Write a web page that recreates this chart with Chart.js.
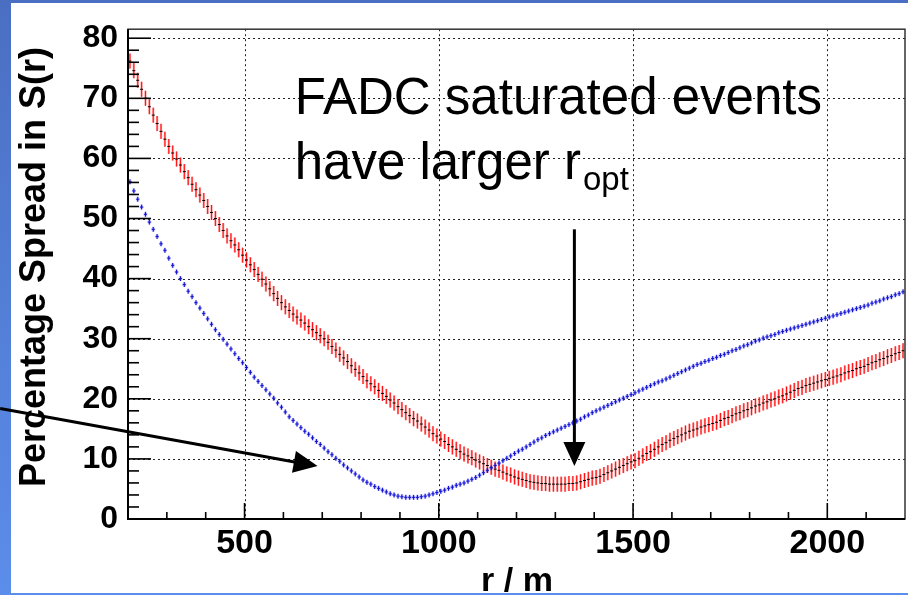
<!DOCTYPE html>
<html>
<head>
<meta charset="utf-8">
<title>Percentage Spread in S(r)</title>
<script src="https://cdn.jsdelivr.net/npm/chart.js@4.4.1/dist/chart.umd.min.js"></script>
<style>
  html, body { margin: 0; padding: 0; background: #fff; }
  canvas { display: block; }
</style>
</head>
<body>
<canvas id="spreadChart" width="908" height="595"></canvas>
<script>
// histogram binning in r (m)
const binStart = 200;
const binWidth = 10;

// spread of S(r) in %, FADC saturated events (red)
const saturatedSpread = [
  76.2, 74.6, 73.0, 71.5, 70.0, 68.6, 67.2, 65.8, 64.5, 63.2,
  62.0, 60.9, 59.9, 58.9, 57.8, 56.8, 55.7, 54.8, 53.9, 53.0,
  52.0, 51.0, 50.0, 49.0, 48.0, 47.1, 46.3, 45.6, 44.8, 43.9,
  43.1, 42.3, 41.5, 40.7, 39.9, 39.1, 38.3, 37.5, 36.7, 36.0,
  35.3, 34.7, 34.1, 33.6, 33.1, 32.6, 32.0, 31.5, 31.0, 30.5,
  30.0, 29.4, 28.7, 28.1, 27.4, 26.8, 26.2, 25.5, 24.9, 24.3,
  23.7, 23.0, 22.5, 22.0, 21.4, 20.9, 20.4, 19.8, 19.3, 18.7,
  18.2, 17.7, 17.2, 16.7, 16.3, 15.8, 15.3, 14.8, 14.2, 13.8,
  13.3, 12.9, 12.4, 12.0, 11.6, 11.2, 10.8, 10.5, 10.2, 9.8,
  9.5, 9.2, 8.9, 8.6, 8.3, 8.1, 7.8, 7.5, 7.3, 7.0,
  6.8, 6.6, 6.4, 6.2, 6.1, 6.0, 5.9, 5.9, 5.8, 5.8,
  5.8, 5.8, 5.8, 5.9, 5.9, 6.0, 6.2, 6.4, 6.6, 6.8,
  6.9, 7.1, 7.4, 7.7, 8.0, 8.3, 8.6, 8.9, 9.2, 9.5,
  9.7, 10.1, 10.5, 10.9, 11.2, 11.6, 12.0, 12.4, 12.7, 13.1,
  13.4, 13.7, 14.0, 14.3, 14.6, 14.8, 15.0, 15.3, 15.5, 15.7,
  15.9, 16.1, 16.4, 16.7, 16.9, 17.2, 17.5, 17.7, 18.0, 18.2,
  18.5, 18.8, 19.0, 19.3, 19.5, 19.8, 20.0, 20.3, 20.5, 20.8,
  21.1, 21.4, 21.7, 21.9, 22.2, 22.4, 22.6, 22.8, 23.0, 23.2,
  23.4, 23.6, 23.8, 24.0, 24.3, 24.5, 24.7, 25.0, 25.2, 25.4,
  25.7, 26.0, 26.2, 26.5, 26.7, 27.0, 27.2, 27.5, 27.7, 28.0
];

// spread of S(r) in %, all other events (blue)
const normalSpread = [
  56.1, 54.6, 53.2, 51.9, 50.7, 49.4, 48.2, 47.0, 45.8, 44.7,
  43.4, 42.2, 41.1, 40.0, 39.0, 37.9, 37.0, 36.0, 35.1, 34.2,
  33.3, 32.4, 31.5, 30.7, 29.9, 29.1, 28.3, 27.5, 26.7, 26.0,
  25.2, 24.4, 23.6, 22.9, 22.2, 21.5, 20.8, 20.1, 19.3, 18.6,
  17.8, 17.0, 16.4, 15.8, 15.2, 14.6, 14.1, 13.5, 12.9, 12.4,
  11.8, 11.2, 10.7, 10.1, 9.6, 9.0, 8.5, 8.0, 7.5, 7.0,
  6.5, 6.1, 5.8, 5.4, 5.1, 4.8, 4.5, 4.2, 4.0, 3.8,
  3.7, 3.6, 3.6, 3.6, 3.6, 3.7, 3.8, 4.0, 4.2, 4.4,
  4.6, 4.8, 5.1, 5.3, 5.6, 5.8, 6.0, 6.3, 6.6, 6.9,
  7.3, 7.7, 8.1, 8.5, 8.9, 9.3, 9.7, 10.1, 10.5, 10.9,
  11.3, 11.6, 12.0, 12.4, 12.8, 13.2, 13.5, 13.9, 14.2, 14.5,
  14.8, 15.1, 15.4, 15.7, 16.0, 16.3, 16.6, 17.0, 17.3, 17.7,
  18.0, 18.3, 18.6, 18.9, 19.2, 19.5, 19.8, 20.1, 20.4, 20.7,
  21.0, 21.3, 21.6, 21.9, 22.2, 22.5, 22.8, 23.0, 23.3, 23.6,
  23.9, 24.2, 24.5, 24.8, 25.1, 25.4, 25.7, 25.9, 26.2, 26.4,
  26.7, 26.9, 27.2, 27.4, 27.7, 28.0, 28.2, 28.5, 28.8, 29.0,
  29.3, 29.6, 29.8, 30.1, 30.3, 30.5, 30.7, 31.0, 31.2, 31.4,
  31.6, 31.8, 32.0, 32.2, 32.4, 32.6, 32.8, 33.0, 33.2, 33.4,
  33.6, 33.8, 34.0, 34.2, 34.4, 34.6, 34.8, 35.0, 35.2, 35.4,
  35.6, 35.9, 36.1, 36.3, 36.6, 36.8, 37.0, 37.3, 37.5, 37.8
];

const saturatedErr = 1.25;
const normalErr = 0.4;

// axis ticks
const xMajor = [500, 1000, 1500, 2000];
const xMinor = [300, 400, 600, 700, 800, 900, 1100, 1200, 1300, 1400, 1600, 1700, 1800, 1900, 2100];
const yMajor = [0, 10, 20, 30, 40, 50, 60, 70, 80];
const yMinor = [2, 4, 6, 8, 12, 14, 16, 18, 22, 24, 26, 28, 32, 34, 36, 38,
  42, 44, 46, 48, 52, 54, 56, 58, 62, 64, 66, 68, 72, 74, 76, 78];

// annotation text and arrows, in data coordinates
const noteLines = ["FADC saturated events", "have larger r"];
const noteSub = "opt";
const arrows = [
  { from: [-129, 18.4], to: [688, 8.8] },
  { from: [1349, 48.2], to: [1349, 8.8] }
];

const FONT = "'Liberation Sans', Arial, Helvetica, sans-serif";

function toPoints(values) {
  return values.map((v, i) => ({ x: binStart + binWidth * (i + 0.5), y: v }));
}

function drawArrow(ctx, x1, y1, x2, y2) {
  const ang = Math.atan2(y2 - y1, x2 - x1);
  const head = 24, wing = 11;
  const bx = x2 - head * Math.cos(ang), by = y2 - head * Math.sin(ang);
  ctx.strokeStyle = "#000";
  ctx.lineWidth = 3;
  ctx.beginPath();
  ctx.moveTo(x1, y1);
  ctx.lineTo(bx + 2 * Math.cos(ang), by + 2 * Math.sin(ang));
  ctx.stroke();
  ctx.fillStyle = "#000";
  ctx.beginPath();
  ctx.moveTo(x2, y2);
  ctx.lineTo(bx - wing * Math.sin(ang), by + wing * Math.cos(ang));
  ctx.lineTo(bx + wing * Math.sin(ang), by - wing * Math.cos(ang));
  ctx.closePath();
  ctx.fill();
}

const rootFrame = {
  id: "rootFrame",
  beforeDraw(chart) {
    const { ctx, width, height } = chart;
    ctx.save();
    ctx.fillStyle = "#fff";
    ctx.fillRect(0, 0, width, height);
    // slide border
    const g = ctx.createLinearGradient(0, 0, 0, height);
    g.addColorStop(0, "#4a6fc2");
    g.addColorStop(1, "#5b8dea");
    ctx.fillStyle = g;
    ctx.fillRect(0, 0, 11, height);
    ctx.fillStyle = "#4a6fc2";
    ctx.fillRect(0, 0, width, 3);
    ctx.fillStyle = "#5b8dea";
    ctx.fillRect(0, 593, width, 2);
    ctx.restore();
  },
  beforeDatasetsDraw(chart) {
    const { ctx, chartArea: a, scales: { x, y } } = chart;
    ctx.save();
    ctx.strokeStyle = "#222";
    ctx.lineWidth = 1;
    ctx.setLineDash([2, 3]);
    yMajor.slice(1).forEach(v => {
      const py = Math.round(y.getPixelForValue(v)) + 0.5;
      ctx.beginPath(); ctx.moveTo(a.left, py); ctx.lineTo(a.right, py); ctx.stroke();
    });
    xMajor.forEach(v => {
      const px = Math.round(x.getPixelForValue(v)) + 0.5;
      ctx.beginPath(); ctx.moveTo(px, a.top); ctx.lineTo(px, a.bottom); ctx.stroke();
    });
    ctx.restore();
  },
  afterDatasetDraw(chart, args) {
    const { ctx, chartArea: a, scales: { x, y } } = chart;
    const ds = chart.data.datasets[args.index];
    const halfBin = (x.getPixelForValue(binWidth) - x.getPixelForValue(0)) / 2;
    ctx.save();
    ctx.beginPath();
    ctx.rect(a.left, a.top, a.right - a.left, a.bottom - a.top);
    ctx.clip();
    args.meta.data.forEach((pt, i) => {
      const v = ds.data[i].y;
      const px = pt.x, py = pt.y;
      const top = y.getPixelForValue(v + ds.errorBar);
      const bot = y.getPixelForValue(v - ds.errorBar);
      if (ds.barStyle === "red") {
        ctx.strokeStyle = "rgba(255,90,90,0.6)";
        ctx.lineWidth = 2.2;
        ctx.beginPath(); ctx.moveTo(px, top); ctx.lineTo(px, bot); ctx.stroke();
        ctx.strokeStyle = "#ff1010";
        ctx.lineWidth = 1;
        ctx.beginPath(); ctx.moveTo(px, top); ctx.lineTo(px, bot); ctx.stroke();
        ctx.strokeStyle = "#000";
        ctx.beginPath(); ctx.moveTo(px - 1.5, py); ctx.lineTo(px + 1.5, py); ctx.stroke();
      } else {
        ctx.strokeStyle = "rgba(70,70,255,0.4)";
        ctx.lineWidth = 2.2;
        ctx.beginPath();
        ctx.moveTo(px - halfBin, py); ctx.lineTo(px + halfBin, py);
        ctx.moveTo(px, Math.min(top, py - 2.5)); ctx.lineTo(px, Math.max(bot, py + 2.5));
        ctx.stroke();
        ctx.strokeStyle = "#1010d0";
        ctx.lineWidth = 1;
        ctx.beginPath();
        ctx.moveTo(px - 1.5, py); ctx.lineTo(px + 1.5, py);
        ctx.moveTo(px, Math.min(top, py - 2)); ctx.lineTo(px, Math.max(bot, py + 2));
        ctx.stroke();
      }
    });
    ctx.restore();
  },
  afterDatasetsDraw(chart) {
    const { ctx, chartArea: a, scales: { x, y } } = chart;
    ctx.save();
    // frame
    ctx.strokeStyle = "#333";
    ctx.lineWidth = 1.5;
    ctx.strokeRect(a.left, a.top, a.right - a.left, a.bottom - a.top);
    ctx.strokeStyle = "#000";
    ctx.lineWidth = 2;
    ctx.beginPath();
    ctx.moveTo(a.left, a.top); ctx.lineTo(a.left, a.bottom); ctx.lineTo(a.right, a.bottom);
    ctx.stroke();
    // tick marks, drawn inside the frame
    ctx.lineWidth = 1.6;
    yMajor.forEach(v => {
      const py = y.getPixelForValue(v);
      ctx.beginPath(); ctx.moveTo(a.left, py); ctx.lineTo(a.left + 23, py); ctx.stroke();
    });
    yMinor.forEach(v => {
      const py = y.getPixelForValue(v);
      ctx.beginPath(); ctx.moveTo(a.left, py); ctx.lineTo(a.left + 11, py); ctx.stroke();
    });
    xMajor.forEach(v => {
      const px = x.getPixelForValue(v);
      ctx.beginPath(); ctx.moveTo(px, a.bottom); ctx.lineTo(px, a.bottom - 16); ctx.stroke();
    });
    xMinor.forEach(v => {
      const px = x.getPixelForValue(v);
      ctx.beginPath(); ctx.moveTo(px, a.bottom); ctx.lineTo(px, a.bottom - 7); ctx.stroke();
    });

    // axis titles
    ctx.fillStyle = "#000";
    ctx.font = "bold 36px " + FONT;
    ctx.textAlign = "center";
    ctx.textBaseline = "alphabetic";
    ctx.save();
    ctx.translate(45, 267);
    ctx.rotate(-Math.PI / 2);
    ctx.fillText("Percentage Spread in S(r)", 0, 0);
    ctx.restore();
    ctx.font = "bold 34px " + FONT;
    ctx.fillText("r / m", 517, 591);

    // note
    ctx.textAlign = "left";
    ctx.font = "51px " + FONT;
    const tx = x.getPixelForValue(629);
    ctx.fillText(noteLines[0], tx, y.getPixelForValue(67.4));
    const l2y = y.getPixelForValue(56.6);
    ctx.fillText(noteLines[1], tx, l2y);
    const w2 = ctx.measureText(noteLines[1]).width;
    ctx.font = "33px " + FONT;
    ctx.fillText(noteSub, tx + w2 + 2, l2y + 11);

    // arrows
    arrows.forEach(ar => {
      drawArrow(ctx,
        x.getPixelForValue(ar.from[0]), y.getPixelForValue(ar.from[1]),
        x.getPixelForValue(ar.to[0]), y.getPixelForValue(ar.to[1]));
    });
    ctx.restore();
  }
};

const ctx = document.getElementById("spreadChart").getContext("2d");
new Chart(ctx, {
  type: "scatter",
  data: {
    datasets: [
      {
        label: "all events",
        data: toPoints(normalSpread),
        errorBar: normalErr,
        barStyle: "blue",
        pointRadius: 0,
        pointHoverRadius: 0
      },
      {
        label: "FADC saturated",
        data: toPoints(saturatedSpread),
        errorBar: saturatedErr,
        barStyle: "red",
        pointRadius: 0,
        pointHoverRadius: 0
      }
    ]
  },
  options: {
    responsive: false,
    animation: false,
    events: [],
    layout: { padding: { top: 27, right: 3, left: 0, bottom: 0 } },
    plugins: { legend: { display: false }, tooltip: { enabled: false } },
    scales: {
      x: {
        type: "linear",
        min: 200,
        max: 2200,
        grid: { display: false, drawTicks: false },
        border: { display: false },
        afterBuildTicks: (scale) => { scale.ticks = xMajor.map(v => ({ value: v })); },
        afterFit: (scale) => { scale.height = 76; },
        ticks: {
          color: "#000",
          padding: 4,
          maxRotation: 0,
          callback: (value) => String(value),
          font: { family: FONT, size: 34, weight: "bold" }
        }
      },
      y: {
        min: 0,
        max: 81.5,
        grid: { display: false, drawTicks: false },
        border: { display: false },
        afterBuildTicks: (scale) => { scale.ticks = yMajor.map(v => ({ value: v })); },
        afterFit: (scale) => { scale.width = 128; },
        ticks: {
          color: "#000",
          padding: 10,
          callback: (value) => String(value),
          font: { family: FONT, size: 32, weight: "bold" }
        }
      }
    }
  },
  plugins: [rootFrame]
});
</script>
</body>
</html>
